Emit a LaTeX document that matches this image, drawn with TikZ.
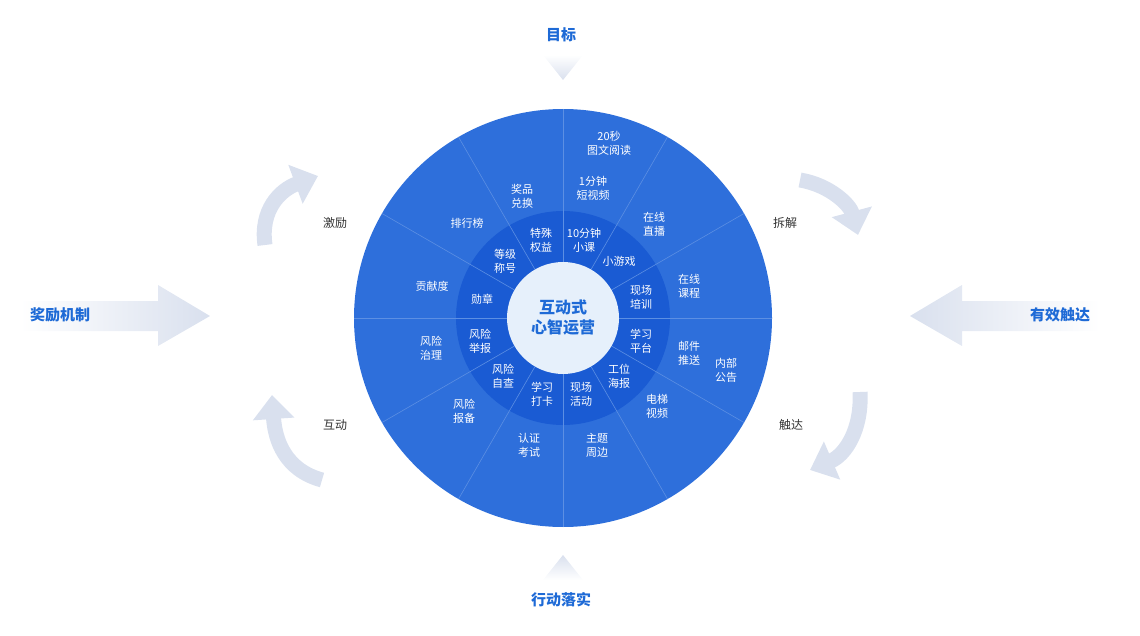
\documentclass[tikz,border=0pt]{standalone}
\usepackage{fontspec}
\setmainfont{Noto Sans CJK SC}
\usetikzlibrary{arrows.meta,calc}
\definecolor{ringout}{HTML}{2E6FDB}
\definecolor{ringin}{HTML}{1A5BD3}
\definecolor{core}{HTML}{E6F0FB}
\definecolor{corefg}{HTML}{1E6AD6}
\definecolor{arr}{HTML}{D9E0EE}
\definecolor{divl}{HTML}{5C8FE3}
\definecolor{txt}{HTML}{333333}
\begin{document}
\begin{tikzpicture}[x=1pt,y=-1pt,
  lbl/.style={text=white,font=\fontsize{11}{14}\selectfont,align=center,inner sep=0},
  side/.style={text=txt,font=\fontsize{12}{14}\selectfont,inner sep=0},
  big/.style={text=corefg,font=\fontsize{15}{18}\selectfont\bfseries,inner sep=0},
  curv/.style={line width=15, draw=arr, -{Triangle[width=40,length=24]}}]
\useasboundingbox (0,0) rectangle (1140,636);
\coordinate (c) at (563,318);
\fill[ringout] (c) circle (209);
\fill[ringin] (c) circle (107);
\foreach \a in {0,30,...,330} \draw[divl,line width=0.6] ($(c)+(\a:56)$) -- ($(c)+(\a:209)$);
\fill[core] (c) circle (56);
\node[text=corefg,font=\fontsize{16}{20}\selectfont\bfseries,align=center] (ctr) at (c) {互动式\\心智运营};
% outer labels
\node[lbl] (o1) at (609,143) {20秒\\图文阅读};
\node[lbl] (o2) at (593,188) {1分钟\\短视频};
\node[lbl] (o3) at (654,224) {在线\\直播};
\node[lbl] (o4) at (689,286) {在线\\课程};
\node[lbl] (o5) at (689,353) {邮件\\推送};
\node[lbl] (o6) at (726,370) {内部\\公告};
\node[lbl] (o7) at (657,406) {电梯\\视频};
\node[lbl] (o8) at (597,445) {主题\\周边};
\node[lbl] (o9) at (529,445) {认证\\考试};
\node[lbl] (o10) at (464,411) {风险\\报备};
\node[lbl] (o11) at (431,348) {风险\\治理};
\node[lbl] (o12) at (432,286) {贡献度};
\node[lbl] (o13) at (467,223) {排行榜};
\node[lbl] (o14) at (522,196) {奖品\\兑换};
% inner labels
\node[lbl] (i1) at (541,240) {特殊\\权益};
\node[lbl] (i2) at (584,240) {10分钟\\小课};
\node[lbl] (i3) at (619,261) {小游戏};
\node[lbl] (i4) at (641,297) {现场\\培训};
\node[lbl] (i5) at (641,341) {学习\\平台};
\node[lbl] (i6) at (619,376) {工位\\海报};
\node[lbl] (i7) at (581,394) {现场\\活动};
\node[lbl] (i8) at (542,394) {学习\\打卡};
\node[lbl] (i9) at (503,376) {风险\\自查};
\node[lbl] (i10) at (480,341) {风险\\举报};
\node[lbl] (i11) at (482,299) {勋章};
\node[lbl] (i12) at (505,261) {等级\\称号};
% straight arrows
\shade[left color=white,right color=arr] (20,301) -- (158,301) -- (158,285) -- (210,316) -- (158,346) -- (158,331) -- (20,331) -- cycle;
\shade[right color=white,left color=arr] (1100,301) -- (962,301) -- (962,285) -- (910,316) -- (962,346) -- (962,331) -- (1100,331) -- cycle;
\shade[top color=white,bottom color=arr] (543,55) -- (583,55) -- (563,80) -- cycle;
\shade[bottom color=white,top color=arr] (543,580) -- (583,580) -- (563,555) -- cycle;
\node[big] (t) at (561,35) {目标};
\node[big] (b) at (561,600) {行动落实};
\node[big] (l) at (60,315) {奖励机制};
\node[big] (r) at (1060,315) {有效触达};
% curved arrows
\coordinate (a1s) at (265,245); \coordinate (a1e) at (318,176);
\coordinate (a2s) at (800,180); \coordinate (a2e) at (858,235);
\coordinate (a3s) at (860,392); \coordinate (a3e) at (810,470);
\coordinate (a4s) at (322,480); \coordinate (a4e) at (272,395);
\draw[curv] (a1s) .. controls (260,210) and (280,190) .. (a1e);
\draw[curv] (a2s) .. controls (830,185) and (850,205) .. (a2e);
\draw[curv] (a3s) .. controls (862,430) and (845,455) .. (a3e);
\draw[curv] (a4s) .. controls (285,470) and (275,440) .. (a4e);
\node[side] (s1) at (335,223) {激励};
\node[side] (s2) at (785,223) {拆解};
\node[side] (s3) at (335,425) {互动};
\node[side] (s4) at (791,425) {触达};
\end{tikzpicture}
\end{document}
